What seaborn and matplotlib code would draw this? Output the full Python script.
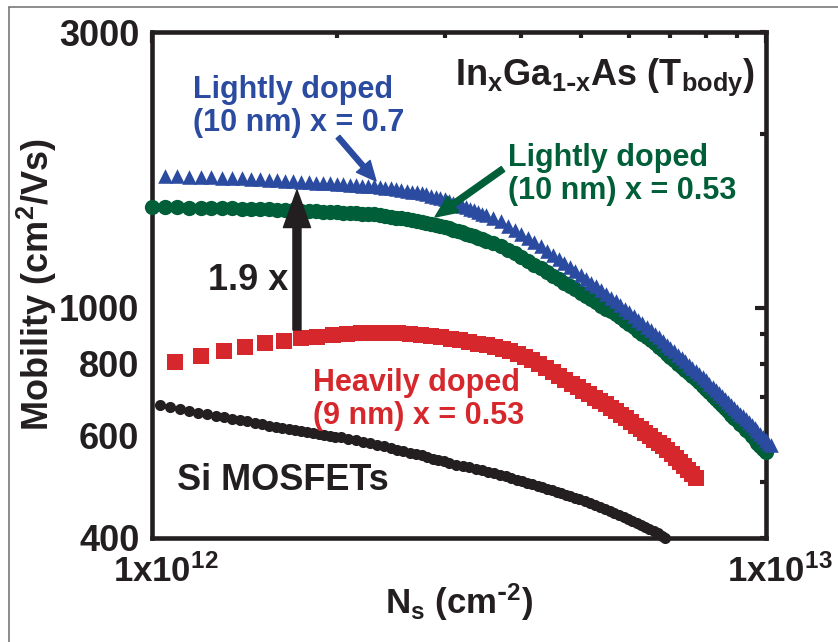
import numpy as np
import pandas as pd
import matplotlib
matplotlib.use("Agg")
import matplotlib.pyplot as plt
import seaborn as sns
from matplotlib.ticker import FixedLocator, FixedFormatter, NullFormatter
from matplotlib.transforms import ScaledTranslation
from matplotlib.patches import FancyArrowPatch
from matplotlib.lines import Line2D

# ---------------- data (Ns in units of 1e12 cm^-2, mobility in cm^2/Vs) ----------------
ns_blue = [1.05, 1.10, 1.15, 1.20, 1.25, 1.30, 1.35, 1.40, 1.45, 1.50, 1.55, 1.60, 1.65, 1.70, 1.75,
           1.80, 1.85, 1.90, 1.95, 2.00, 2.05, 2.10, 2.15, 2.20, 2.25, 2.30, 2.35, 2.40, 2.45, 2.50,
           2.55, 2.60, 2.65, 2.70, 2.75, 2.80, 2.85, 2.90, 2.95, 3.00, 3.05, 3.10, 3.15, 3.20, 3.25,
           3.30, 3.35, 3.40, 3.45, 3.50, 3.6, 3.7, 3.8, 3.9, 4.0, 4.1, 4.2, 4.3, 4.4, 4.5, 4.6, 4.7,
           4.8, 4.9, 5.0, 5.1, 5.2, 5.3, 5.4, 5.5, 5.6, 5.7, 5.8, 5.9, 6.0, 6.1, 6.2, 6.3, 6.4, 6.5,
           6.6, 6.7, 6.8, 6.9, 7.0, 7.1, 7.2, 7.3, 7.4, 7.5, 7.6, 7.7, 7.8, 7.9, 8.0, 8.1, 8.2, 8.3,
           8.4, 8.5, 8.6, 8.7, 8.8, 8.9, 9.0, 9.1, 9.2, 9.3, 9.4, 9.5, 9.6, 9.7, 9.8, 9.9, 10.0,
           10.1, 10.2]
mu_blue = [1693, 1689, 1685, 1684, 1682, 1679, 1677, 1675, 1672, 1670, 1666, 1662, 1658, 1654, 1650,
           1648, 1646, 1643, 1641, 1639, 1636, 1633, 1630, 1627, 1624, 1621, 1618, 1613, 1608, 1603,
           1598, 1593, 1588, 1583, 1578, 1570, 1563, 1556, 1548, 1539, 1529, 1519, 1509, 1501, 1491,
           1482, 1473, 1463, 1455, 1445, 1428, 1411, 1387, 1364, 1342, 1319, 1298, 1276, 1254, 1234,
           1214, 1194, 1176, 1157, 1138, 1121, 1104, 1088, 1071, 1056, 1040, 1026, 1010, 995, 981,
           967, 953, 940, 927, 914, 901, 888, 875, 863, 851, 840, 829, 818, 807, 797, 787, 777, 767,
           757, 748, 738, 729, 720, 711, 702, 694, 686, 678, 670, 663, 655, 648, 641, 634, 626, 618,
           611, 604, 597, 591, 584, 578]

ns_green = [1.00, 1.05, 1.10, 1.15, 1.20, 1.25, 1.30, 1.35, 1.40, 1.45, 1.50, 1.55, 1.60, 1.65, 1.70,
            1.75, 1.80, 1.85, 1.90, 1.95, 2.00, 2.05, 2.10, 2.15, 2.20, 2.25, 2.30, 2.35, 2.40, 2.45,
            2.50, 2.55, 2.60, 2.65, 2.70, 2.75, 2.80, 2.85, 2.90, 2.95, 3.00, 3.05, 3.10, 3.15, 3.20,
            3.25, 3.30, 3.35, 3.40, 3.45, 3.50, 3.6, 3.7, 3.8, 3.9, 4.0, 4.1, 4.2, 4.3, 4.4, 4.5, 4.6,
            4.7, 4.8, 4.9, 5.0, 5.1, 5.2, 5.3, 5.4, 5.5, 5.6, 5.7, 5.8, 5.9, 6.0, 6.1, 6.2, 6.3, 6.4,
            6.5, 6.6, 6.7, 6.8, 6.9, 7.0, 7.1, 7.2, 7.3, 7.4, 7.5, 7.6, 7.7, 7.8, 7.9, 8.0, 8.1, 8.2,
            8.3, 8.4, 8.5, 8.6, 8.7, 8.8, 8.9, 9.0, 9.1, 9.2, 9.3, 9.4, 9.5, 9.6, 9.7, 9.8, 9.9, 10.0]
mu_green = [1494, 1492, 1491, 1489, 1488, 1487, 1486, 1485, 1484, 1483, 1482, 1479, 1477, 1476, 1473,
            1472, 1470, 1468, 1466, 1465, 1463, 1461, 1459, 1456, 1454, 1452, 1450, 1448, 1443, 1437,
            1432, 1427, 1421, 1416, 1411, 1406, 1401, 1396, 1390, 1385, 1378, 1371, 1363, 1356, 1350,
            1343, 1336, 1329, 1321, 1314, 1306, 1292, 1278, 1259, 1242, 1225, 1206, 1187, 1170, 1153,
            1136, 1120, 1105, 1090, 1075, 1061, 1047, 1034, 1021, 1008, 996, 985, 973, 962, 949, 936,
            925, 912, 901, 890, 879, 867, 855, 843, 832, 821, 810, 800, 790, 780, 770, 761, 752, 743,
            733, 723, 714, 704, 695, 686, 677, 669, 661, 653, 645, 638, 630, 623, 615, 608, 600, 592,
            584, 577, 570, 563]

ns_red = [1.09, 1.20, 1.31, 1.42, 1.53, 1.64, 1.75, 1.86, 1.97, 2.08, 2.19, 2.30, 2.41, 2.52, 2.63,
          2.74, 2.85, 2.96, 3.07, 3.18, 3.29, 3.40, 3.51, 3.62, 3.73, 3.84, 3.95, 4.06, 4.17, 4.28,
          4.39, 4.50, 4.61, 4.72, 4.83, 4.94, 5.05, 5.16, 5.27, 5.38, 5.49, 5.60, 5.71, 5.82, 5.93,
          6.04, 6.15, 6.26, 6.37, 6.48, 6.59, 6.70, 6.81, 6.92, 7.03, 7.14, 7.25, 7.36, 7.47, 7.58,
          7.69]
mu_red = [806, 826, 840, 855, 868, 877, 886, 891, 895, 899, 902, 904, 904, 903, 901, 898, 894, 889,
          884, 878, 872, 866, 860, 854, 848, 840, 831, 821, 810, 798, 786, 774, 762, 750, 739, 728,
          718, 708, 698, 689, 680, 671, 661, 652, 643, 634, 625, 616, 607, 599, 591, 583, 575, 566,
          558, 549, 541, 532, 524, 515, 507]

ns_black = [1.03, 1.07, 1.11, 1.15, 1.19, 1.23, 1.27, 1.31, 1.35, 1.39, 1.43, 1.47, 1.51, 1.55, 1.59,
            1.63, 1.67, 1.71, 1.75, 1.79, 1.83, 1.87, 1.91, 1.95, 1.99, 2.03, 2.09, 2.15, 2.21, 2.27,
            2.33, 2.39, 2.45, 2.51, 2.57, 2.63, 2.69, 2.75, 2.81, 2.87, 2.93, 2.99, 3.05, 3.13, 3.21,
            3.29, 3.37, 3.45, 3.53, 3.61, 3.69, 3.77, 3.85, 3.93, 4.01, 4.09, 4.17, 4.25, 4.33, 4.41,
            4.49, 4.57, 4.65, 4.73, 4.81, 4.89, 4.97, 5.07, 5.17, 5.27, 5.37, 5.47, 5.57, 5.67, 5.77,
            5.87, 5.97, 6.07, 6.17, 6.27, 6.37, 6.47, 6.57, 6.67, 6.77, 6.87]
mu_black = [679, 674, 668, 663, 658, 654, 650, 646, 642, 639, 636, 632, 629, 625, 622, 619, 616, 614,
            611, 608, 606, 604, 602, 600, 598, 596, 592, 589, 585, 582, 578, 575, 571, 568, 565, 561,
            558, 555, 551, 548, 545, 542, 539, 535, 532, 529, 526, 523, 520, 517, 514, 511, 508, 504,
            501, 498, 495, 492, 489, 486, 483, 480, 477, 474, 472, 469, 466, 463, 459, 455, 452, 448,
            444, 441, 437, 434, 431, 428, 424, 421, 417, 414, 410, 407, 403, 400]

x_major_ticks = [1e12, 1e13]
x_major_labels = [r'$1x10^{12}$', r'$1x10^{13}$']
x_minor_ticks = [2e12, 3e12, 4e12, 5e12, 6e12, 7e12, 8e12, 9e12]
y_major_ticks = [1000]
y_major_labels = ['1000']
y_minor_ticks = [400, 500, 600, 700, 800, 900, 2000, 3000]
y_minor_labels = ['400', '', '600', '', '800', '', '', '3000']

# ---------------- style ----------------
sns.set_style("white")
plt.rcParams['font.family'] = ['Liberation Sans', 'DejaVu Sans']
plt.rcParams['font.weight'] = 'bold'
plt.rcParams['axes.labelweight'] = 'bold'
plt.rcParams['mathtext.default'] = 'regular'

INK = '#231f20'
BLUE = '#2a4ba0'
GREEN = '#005e38'
RED = '#d6282c'

fig = plt.figure(figsize=(8.38, 6.42), dpi=100)
ax = fig.add_axes([152 / 838, 1 - 537.5 / 642, 613.5 / 838, 505.5 / 642])


def frame(ns, mu):
    return pd.DataFrame({'Ns': np.asarray(ns, dtype=float) * 1e12, 'mu': np.asarray(mu, dtype=float)})


sns.scatterplot(data=frame(ns_black, mu_black), x='Ns', y='mu', marker='o', s=64, color=INK,
                linewidth=0, ax=ax, clip_on=False, zorder=3)
sns.scatterplot(data=frame(ns_red, mu_red), x='Ns', y='mu', marker='s', s=144, color=RED,
                linewidth=0, ax=ax, clip_on=False, zorder=3)
sns.scatterplot(data=frame(ns_green, mu_green), x='Ns', y='mu', marker='o', s=121, color=GREEN,
                linewidth=0, ax=ax, clip_on=False, zorder=4)
sns.scatterplot(data=frame(ns_blue, mu_blue), x='Ns', y='mu', marker='^', s=110, color=BLUE,
                linewidth=0, ax=ax, clip_on=False, zorder=5)

ax.set_xscale('log')
ax.set_yscale('log')
ax.set_xlim(1e12, 1e13)
ax.set_ylim(400, 3000)

ax.xaxis.set_major_locator(FixedLocator(x_major_ticks))
ax.xaxis.set_major_formatter(FixedFormatter(x_major_labels))
ax.xaxis.set_minor_locator(FixedLocator(x_minor_ticks))
ax.xaxis.set_minor_formatter(NullFormatter())
ax.yaxis.set_major_locator(FixedLocator(y_major_ticks))
ax.yaxis.set_major_formatter(FixedFormatter(y_major_labels))
ax.yaxis.set_minor_locator(FixedLocator(y_minor_ticks))
ax.yaxis.set_minor_formatter(FixedFormatter(y_minor_labels))

ax.tick_params(which='both', direction='in', top=True, right=True, width=3, color=INK,
               labelcolor=INK)
ax.tick_params(axis='x', which='both', labelsize=25, pad=12)
ax.tick_params(axis='y', which='both', labelsize=26, pad=9)
ax.tick_params(which='major', length=8)
ax.tick_params(which='minor', length=4.5)
for sp in ax.spines.values():
    sp.set_linewidth(3.3)
    sp.set_color(INK)
    sp.set_visible(True)

shift = ScaledTranslation(10 / 72, 0, fig.dpi_scale_trans)
for lab in ax.xaxis.get_majorticklabels():
    lab.set_transform(lab.get_transform() + shift)

ax.set_xlabel(r'N$_s$ (cm$^{\text{-}2}$)', fontsize=25, color=INK)
ax.xaxis.set_label_coords(0.5, -0.088)
ax.set_ylabel(r'Mobility (cm$^2$/Vs)', fontsize=26, color=INK)
ax.yaxis.set_label_coords(-0.152, 0.5)

# annotations
ax.text(0.0668, 0.915, 'Lightly doped\n(10 nm) x = 0.7', transform=ax.transAxes, color=BLUE,
        fontsize=22, ha='left', va='top', linespacing=1.12)
ax.text(0.5803, 0.7804, 'Lightly doped\n(10 nm) x = 0.53', transform=ax.transAxes, color=GREEN,
        fontsize=22, ha='left', va='top', linespacing=1.12)
ax.text(0.2624, 0.3353, 'Heavily doped\n(9 nm) x = 0.53', transform=ax.transAxes, color=RED,
        fontsize=22, ha='left', va='top', linespacing=1.12)
ax.text(0.0407, 0.1474, 'Si MOSFETs', transform=ax.transAxes, color=INK,
        fontsize=26, ha='left', va='top')
ax.text(0.0913, 0.543, '1.9 x', transform=ax.transAxes, color=INK,
        fontsize=26, ha='left', va='top')
ax.text(0.4939, 0.9505, r'In$_x$Ga$_{1\text{-}x}$As (T$_{body}$)', transform=ax.transAxes, color=INK,
        fontsize=26, ha='left', va='top')


def arrow(p0, p1, color, hl, hw, tw):
    a = FancyArrowPatch(p0, p1, transform=ax.transAxes,
                        arrowstyle=f'simple,head_length={hl},head_width={hw},tail_width={tw}',
                        mutation_scale=1, color=color, shrinkA=0, shrinkB=0, zorder=6, clip_on=False)
    ax.add_patch(a)


arrow((0.3032, 0.7923), (0.3651, 0.7052), BLUE, 14, 13, 3.6)
arrow((0.5721, 0.7290), (0.4613, 0.6340), GREEN, 16, 14, 4.3)
arrow((0.2363, 0.4105), (0.2363, 0.6874), INK, 27, 19.5, 5.8)

# outer frame (partly visible)
fig.add_artist(Line2D([9 / 838, 9 / 838], [0, 1 - 7 / 642], transform=fig.transFigure,
                      color='#6e6e6e', lw=1.1))
fig.add_artist(Line2D([9 / 838, 1], [1 - 7 / 642, 1 - 7 / 642], transform=fig.transFigure,
                      color='#6e6e6e', lw=1.1))

fig.savefig('out.png', dpi=100)
